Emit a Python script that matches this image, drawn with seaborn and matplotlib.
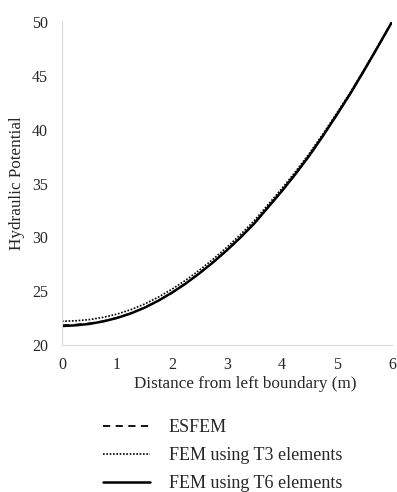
import numpy as np
import pandas as pd
import seaborn as sns
import matplotlib.pyplot as plt

# Values
distance = [0, 0.25, 0.5, 0.75, 1, 1.25, 1.5, 1.75, 2, 2.25, 2.5, 2.75, 3,
            3.25, 3.5, 3.75, 4, 4.25, 4.5, 4.75, 5, 5.25, 5.5, 5.75, 6]
fem_t6 = [21.75, 21.82, 21.95, 22.18, 22.5, 22.92, 23.45, 24.1, 24.85, 25.7,
          26.65, 27.68, 28.8, 30.0, 31.3, 32.8, 34.3, 35.9, 37.6, 39.45,
          41.4, 43.4, 45.55, 47.75, 50.0]
esfem = [21.82, 21.88, 22.0, 22.2, 22.52, 22.93, 23.46, 24.1, 24.85, 25.7,
         26.65, 27.68, 28.8, 30.0, 31.3, 32.8, 34.3, 35.9, 37.6, 39.45,
         41.4, 43.4, 45.55, 47.75, 50.0]
fem_t3 = [22.2, 22.24, 22.35, 22.56, 22.86, 23.27, 23.79, 24.43, 25.17, 26.01,
          26.95, 27.97, 29.08, 30.27, 31.56, 33.05, 34.54, 36.12, 37.8, 39.63,
          41.55, 43.52, 45.63, 47.79, 50.0]

sns.set_style("white")
plt.rcParams['font.family'] = ['Liberation Serif', 'DejaVu Serif']

df = pd.DataFrame({'x': distance, 'ESFEM': esfem,
                   'FEM using T3 elements': fem_t3,
                   'FEM using T6 elements': fem_t6})

fig = plt.figure(figsize=(3.97, 4.92), dpi=100)
ax = fig.add_axes([0.156, 0.299, 0.831, 0.656])

sns.lineplot(data=df, x='x', y='FEM using T6 elements', ax=ax, color='black',
             lw=1.8, label='FEM using T6 elements')
sns.lineplot(data=df, x='x', y='ESFEM', ax=ax, color='black', lw=1.3,
             linestyle=(0, (4, 3)), label='ESFEM')
sns.lineplot(data=df, x='x', y='FEM using T3 elements', ax=ax, color='black',
             lw=1.2, linestyle=(0, (1, 1)), label='FEM using T3 elements')

ax.set_xlim(0, 6)
ax.set_ylim(20, 50)
ax.set_xticks(range(0, 7))
ax.set_yticks(range(20, 51, 5))
ax.tick_params(axis='x', labelsize=11.5, length=0, pad=9)
ax.tick_params(axis='y', labelsize=11.5, length=0, pad=10)
for s in ['top', 'right']:
    ax.spines[s].set_visible(False)
for s in ['left', 'bottom']:
    ax.spines[s].set_color('#d9d9d9')
    ax.spines[s].set_linewidth(0.8)
ax.set_xlabel('Distance from left boundary (m)', fontsize=12.3)
ax.set_ylabel('Hydraulic Potential', fontsize=12.3)
ax.xaxis.set_label_coords(0.555, -0.097)
ax.yaxis.set_label_coords(-0.112, 0.5)

handles, labels = ax.get_legend_handles_labels()
ax.get_legend().remove()
order = [1, 2, 0]
fig.legend([handles[i] for i in order], [labels[i] for i in order],
           loc='upper left', bbox_to_anchor=(0.218, 0.181), frameon=False,
           fontsize=13, handlelength=2.6, labelspacing=0.6, handletextpad=1.05)

fig.savefig('out.png', dpi=100)
